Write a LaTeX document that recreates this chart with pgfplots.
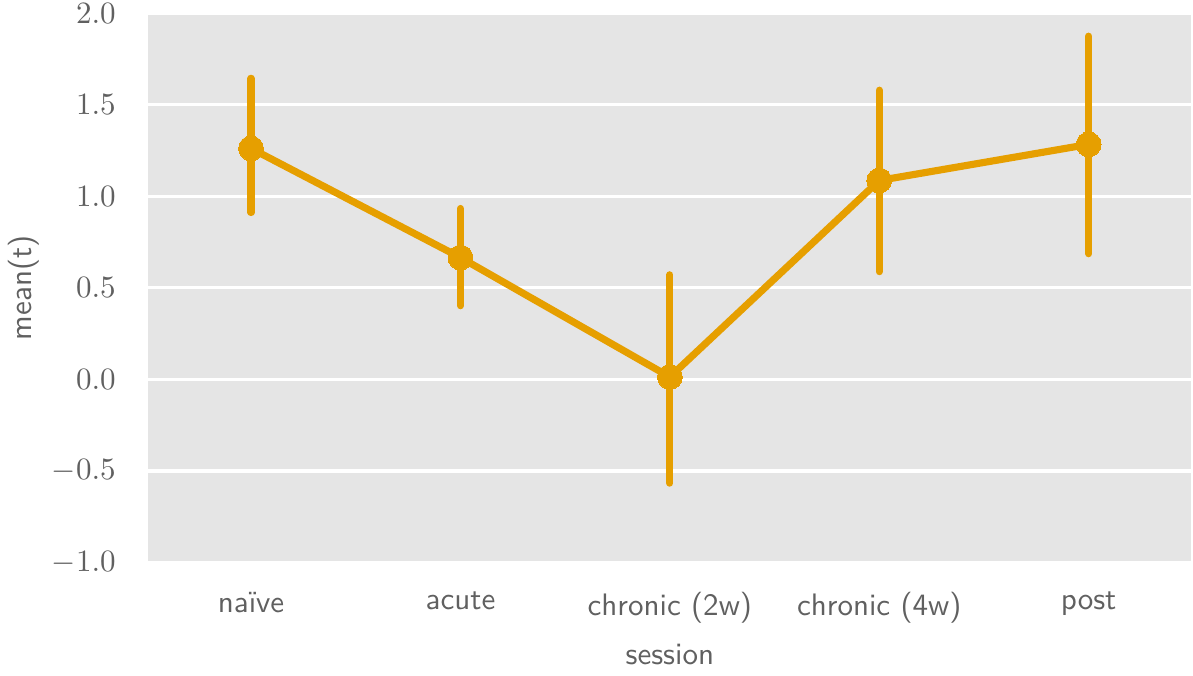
\documentclass[border=0pt]{standalone}
\usepackage{pgfplots}
\pgfplotsset{compat=1.18}
\definecolor{bgray}{HTML}{E5E5E5}
\definecolor{sborange}{HTML}{E69F00}
\definecolor{txt}{HTML}{606060}
\begin{document}
\begin{tikzpicture}
\begin{axis}[
    scale only axis,
    width=336pt, height=177pt,
    xmin=-0.49, xmax=4.49,
    ymin=-1, ymax=2,
    xtick={0,1,2,3,4},
    xticklabels={naïve, acute, chronic (2w), chronic (4w), post},
    ytick={-1,-0.5,0,0.5,1,1.5,2},
    yticklabel style={/pgf/number format/fixed, /pgf/number format/fixed zerofill,
        /pgf/number format/precision=1, xshift=-7pt, inner ysep=1pt},
    axis background/.style={fill=bgray},
    axis line style={draw=none},
    major tick length=0pt,
    ymajorgrids,
    grid style={white, line width=1.1pt},
    tick label style={text=txt},
    xticklabel style={font=\sffamily, yshift=-6pt},
    xlabel={session}, ylabel={mean(t)},
    label style={font=\sffamily, text=txt},
    xlabel style={yshift=0pt},
    ylabel style={yshift=-2pt, inner sep=2.6pt},
    clip=false,
]
\addplot[
    sborange, line width=2.3pt, line cap=round,
    mark=*, mark size=4pt, mark options={fill=sborange, draw=sborange, line width=0pt},
    error bars/.cd, y dir=both, y explicit, error mark=none,
    error bar style={line width=2.3pt, line cap=round, sborange},
] coordinates {
    (0,1.261) += (0,0.383) -= (0,0.350)
    (1,0.665) += (0,0.268) -= (0,0.263)
    (2,0.013) += (0,0.558) -= (0,0.580)
    (3,1.086) += (0,0.493) -= (0,0.498)
    (4,1.283) += (0,0.591) -= (0,0.597)
};
\end{axis}
\end{tikzpicture}
\end{document}
